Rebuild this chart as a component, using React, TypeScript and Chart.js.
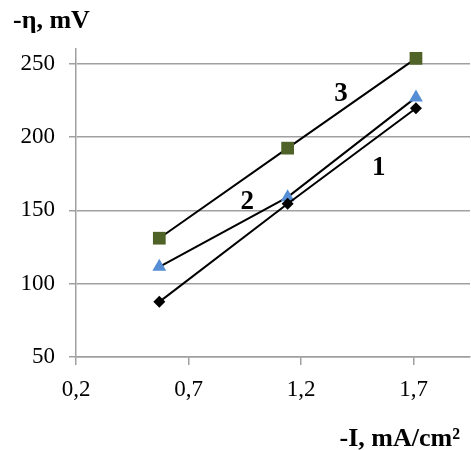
import { useEffect, useRef } from "react";
import { Chart, registerables } from "chart.js";

Chart.register(...registerables);

const xValues = [0.57, 1.14, 1.71];
const series1 = [87.6, 154.5, 219.6];
const series2 = [111.5, 159, 227];
const series3 = [131, 192.4, 253.6];
const xTicks = [0.2, 0.7, 1.2, 1.7];
const yTicks = [50, 100, 150, 200, 250];
const curveLabels = ["1", "2", "3"];
const curveLabelX = [1.545, 0.961, 1.377];
const curveLabelY = [178.6, 155.4, 229.6];
const yTitle = "-η, mV";
const xTitle = "-I, mA/cm²";

const SERIF = "'Liberation Serif', 'Times New Roman', serif";

const overlayPlugin = {
  id: "overlay",
  afterDatasetsDraw(chart: any) {
    const { ctx, scales } = chart;
    ctx.save();
    ctx.fillStyle = "#000";
    ctx.font = `bold 27px ${SERIF}`;
    ctx.textAlign = "center";
    ctx.textBaseline = "middle";
    curveLabels.forEach((t, i) => {
      ctx.fillText(t, scales.x.getPixelForValue(curveLabelX[i]), scales.y.getPixelForValue(curveLabelY[i]));
    });
    ctx.font = `bold 26px ${SERIF}`;
    ctx.textBaseline = "alphabetic";
    ctx.textAlign = "left";
    ctx.fillText(yTitle, 13, 28);
    ctx.textAlign = "right";
    ctx.fillText(xTitle, 460, 446);
    ctx.restore();
  },
};

export default function App() {
  const ref = useRef<HTMLCanvasElement>(null);
  useEffect(() => {
    document.body.style.margin = "0";
    const toPts = (ys: number[]) => xValues.map((x, i) => ({ x, y: ys[i] }));
    const chart = new Chart(ref.current!, {
      type: "scatter",
      data: {
        datasets: [
          {
            data: toPts(series1),
            showLine: true,
            borderColor: "#000",
            borderWidth: 2,
            pointStyle: "rectRot",
            pointRadius: 6,
            pointBackgroundColor: "#000",
            pointBorderColor: "#000",
            pointBorderWidth: 0,
          },
          {
            data: toPts(series2),
            showLine: true,
            borderColor: "#000",
            borderWidth: 2,
            pointStyle: "triangle",
            pointRadius: 8,
            pointBackgroundColor: "#558ed5",
            pointBorderColor: "#558ed5",
            pointBorderWidth: 0,
          },
          {
            data: toPts(series3),
            showLine: true,
            borderColor: "#000",
            borderWidth: 2,
            pointStyle: "rect",
            pointRadius: 9,
            pointBackgroundColor: "#4f6228",
            pointBorderColor: "#4f6228",
            pointBorderWidth: 0,
          },
        ],
      },
      options: {
        animation: false,
        responsive: false,
        events: [],
        layout: { autoPadding: false, padding: { left: 0, top: 49, right: 1, bottom: 0 } },
        plugins: { legend: { display: false }, tooltip: { enabled: false } },
        scales: {
          x: {
            type: "linear",
            min: 0.2,
            max: 1.95,
            afterBuildTicks: (axis: any) => {
              axis.ticks = xTicks.map((v) => ({ value: v }));
            },
            afterFit: (axis: any) => {
              axis.height = 93;
              axis.paddingLeft = 0;
              axis.paddingRight = 0;
            },
            grid: { drawOnChartArea: false, drawTicks: true, tickLength: 8, color: "#a0a0a0", lineWidth: 1.5 },
            border: { color: "#a0a0a0", width: 1.5 },
            ticks: {
              padding: 11,
              color: "#000",
              font: { family: SERIF, size: 23 },
              callback: (v: any) => Number(v).toFixed(1).replace(".", ","),
            },
          },
          y: {
            type: "linear",
            min: 50,
            max: 260,
            afterBuildTicks: (axis: any) => {
              axis.ticks = yTicks.map((v) => ({ value: v }));
            },
            afterFit: (axis: any) => {
              axis.width = 76;
              axis.paddingTop = 0;
              axis.paddingBottom = 0;
            },
            grid: { drawTicks: true, tickLength: 7, color: "#a0a0a0", lineWidth: 1.5 },
            border: { color: "#a0a0a0", width: 1.5 },
            ticks: {
              padding: 14,
              color: "#000",
              font: { family: SERIF, size: 23 },
            },
          },
        },
      },
      plugins: [overlayPlugin],
    });
    return () => chart.destroy();
  }, []);
  return (
    <div style={{ width: 471, height: 450 }}>
      <canvas ref={ref} width={471} height={450} />
    </div>
  );
}
